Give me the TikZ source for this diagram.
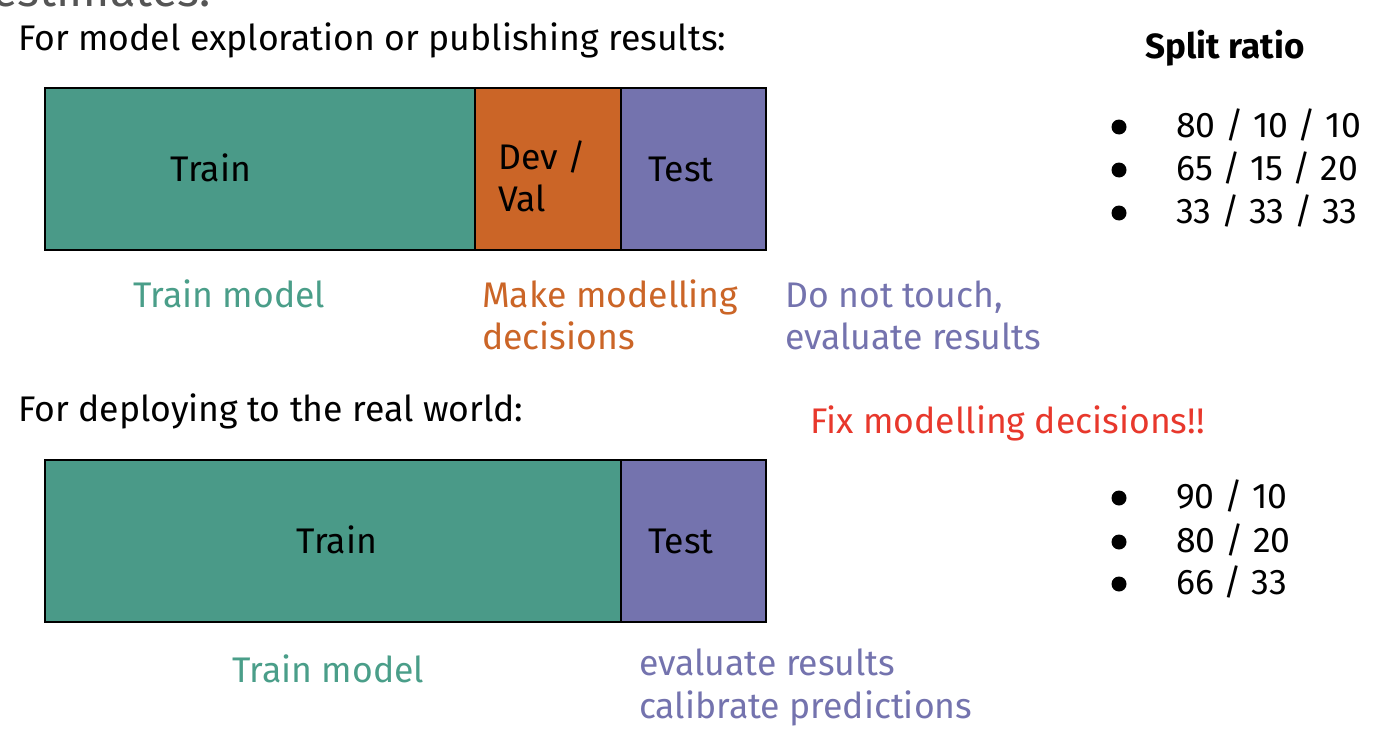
\documentclass[tikz,border=0pt]{standalone}
\usepackage{fontspec}
\setmainfont{Fira Sans}
\newfontfamily\firabold{Fira Sans Bold}
\definecolor{trainc}{HTML}{4A9A88}
\definecolor{devc}{HTML}{CB6527}
\definecolor{testc}{HTML}{7473AE}
\definecolor{trainlab}{HTML}{4A9E89}
\definecolor{alertc}{HTML}{E8382C}
\definecolor{titlec}{HTML}{555555}
\begin{document}
\begin{tikzpicture}[x=1pt,y=-1pt,
  txt/.style={font=\fontsize{35.6}{42}\selectfont, inner sep=0pt},
  seg/.style={draw=black, line width=1.4pt},
  lab/.style={txt, anchor=base west},
  ctr/.style={txt, anchor=base},
  bullet/.style={circle, fill=black, minimum size=15pt, inner sep=0pt}]
\useasboundingbox (0,0) rectangle (1374,736);
\fill[white] (0,0) rectangle (1374,736);

% slide title, cut by the top edge
\begin{scope}
  \clip (0,0) rectangle (1374,736);
  \node[txt, font=\fontsize{47}{52}\selectfont, text=titlec, anchor=base west] (title) at (-8,6) {estimates:};
\end{scope}

% ---- exploration / publishing ----
\node[lab] (head1) at (18,50) {For model exploration or publishing results:};

\draw[seg, fill=trainc] (45,88) rectangle (475,250);
\draw[seg, fill=devc] (475,88) rectangle (621,250);
\draw[seg, fill=testc] (621,88) rectangle (766,250);
\node[ctr] (train1) at (211,181) {Train};
\node[lab] (dev1a) at (498,169) {Dev /};
\node[lab] (dev1b) at (498,211) {Val};
\node[ctr] (test1) at (681,181) {Test};

\node[lab, text=trainlab] (tlab1) at (133,307) {Train model};
\node[lab, text=devc] (dlab1a) at (482,307) {Make modelling};
\node[lab, text=devc] (dlab1b) at (482,349) {decisions};
\node[lab, text=testc] (elab1a) at (785,307) {Do not touch,};
\node[lab, text=testc] (elab1b) at (785,349) {evaluate results};

% ---- deployment ----
\node[lab] (head2) at (18,421) {For deploying to the real world:};
\node[lab, text=alertc] (fix) at (810,433) {Fix modelling decisions!!};

\draw[seg, fill=trainc] (45,460) rectangle (621,622);
\draw[seg, fill=testc] (621,460) rectangle (766,622);
\node[ctr] (train2) at (337,553) {Train};
\node[ctr] (test2) at (681,553) {Test};

\node[lab, text=trainlab] (tlab2) at (232,682) {Train model};
\node[lab, text=testc] (elab2a) at (639,675) {evaluate results};
\node[lab, text=testc] (elab2b) at (639,718) {calibrate predictions};

% ---- split ratios ----
\node[ctr, font=\firabold\fontsize{35}{42}\selectfont] (ratio) at (1225,58) {Split ratio};
\foreach \y/\t [count=\i] in {137/{80 / 10 / 10}, 180/{65 / 15 / 20}, 223/{33 / 33 / 33}}{
  \node[bullet] (ba\i) at (1119,\y-10) {};
  \node[lab] (ra\i) at (1176,\y) {\t};
}
\foreach \y/\t [count=\i] in {508/{90 / 10}, 552/{80 / 20}, 594/{66 / 33}}{
  \node[bullet] (bb\i) at (1119,\y-10) {};
  \node[lab] (rb\i) at (1176,\y) {\t};
}
\end{tikzpicture}
\end{document}
